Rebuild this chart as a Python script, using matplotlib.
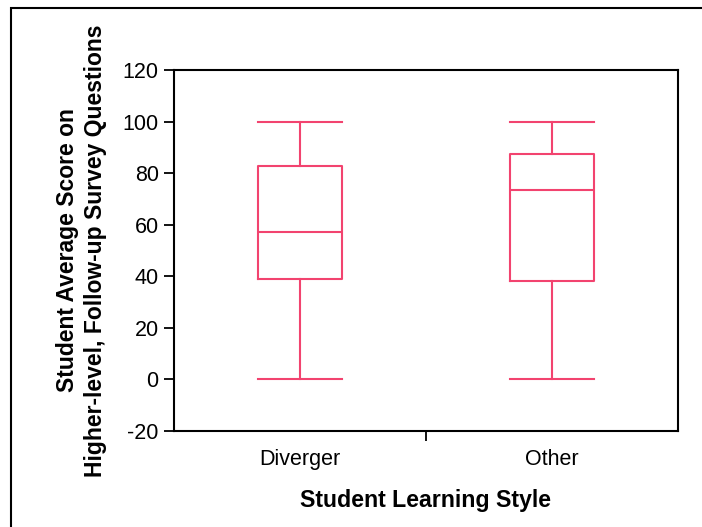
import matplotlib.pyplot as plt
from matplotlib.patches import Rectangle

plt.rcParams['font.family'] = ['Liberation Sans', 'DejaVu Sans']
plt.rcParams['axes.unicode_minus'] = False

# box statistics
groups = ["Diverger", "Other"]
mins = [0, 0]
q1s = [38.8, 38.2]
medians = [57.3, 73.5]
q3s = [82.8, 87.4]
maxs = [100, 100]

col = "#f2436f"

fig = plt.figure(figsize=(7.02, 5.27), dpi=100)
ax = fig.add_axes([174/702, 1-431/527, 504/702, 361/527])

stats = []
for g, lo, a, m, b, hi in zip(groups, mins, q1s, medians, q3s, maxs):
    stats.append(dict(label=g, whislo=lo, q1=a, med=m, q3=b, whishi=hi, fliers=[]))

lp = dict(color=col, linewidth=1.5)
ax.bxp(stats, positions=[1, 2], widths=0.33, showfliers=False,
       boxprops=lp, whiskerprops=lp, capprops=lp, medianprops=lp,
       capwidths=0.33, manage_ticks=False)

ax.set_xlim(0.5, 2.5)
ax.set_ylim(-20, 120)
ax.set_yticks(range(-20, 121, 20))
ax.set_xticks([1.5])
ax.set_xticklabels([""])
ax.set_xticks([1, 2], minor=True)
ax.set_xticklabels(groups, minor=True)
ax.tick_params(axis="x", which="minor", length=0, pad=13, labelsize=15.5)
ax.tick_params(axis="x", which="major", length=7, width=1.3, direction="out")
ax.tick_params(axis="y", length=7, width=1.3, direction="out", labelsize=15.5, pad=4)
for s in ax.spines.values():
    s.set_linewidth(1.5)

ax.set_xlabel("Student Learning Style", fontsize=16.7, fontweight="bold", labelpad=14)
ax.set_ylabel("Student Average Score on\nHigher-level, Follow-up Survey Questions",
              fontsize=16.5, fontweight="bold", labelpad=11, linespacing=1.3)

# outer frame around the chart area
fig.patches.append(Rectangle((11/702, -0.1), 1.2, 1-8/527+0.1, transform=fig.transFigure,
                             fill=False, edgecolor="black", linewidth=1.5))

plt.savefig("out.png", dpi=100)
plt.close()
